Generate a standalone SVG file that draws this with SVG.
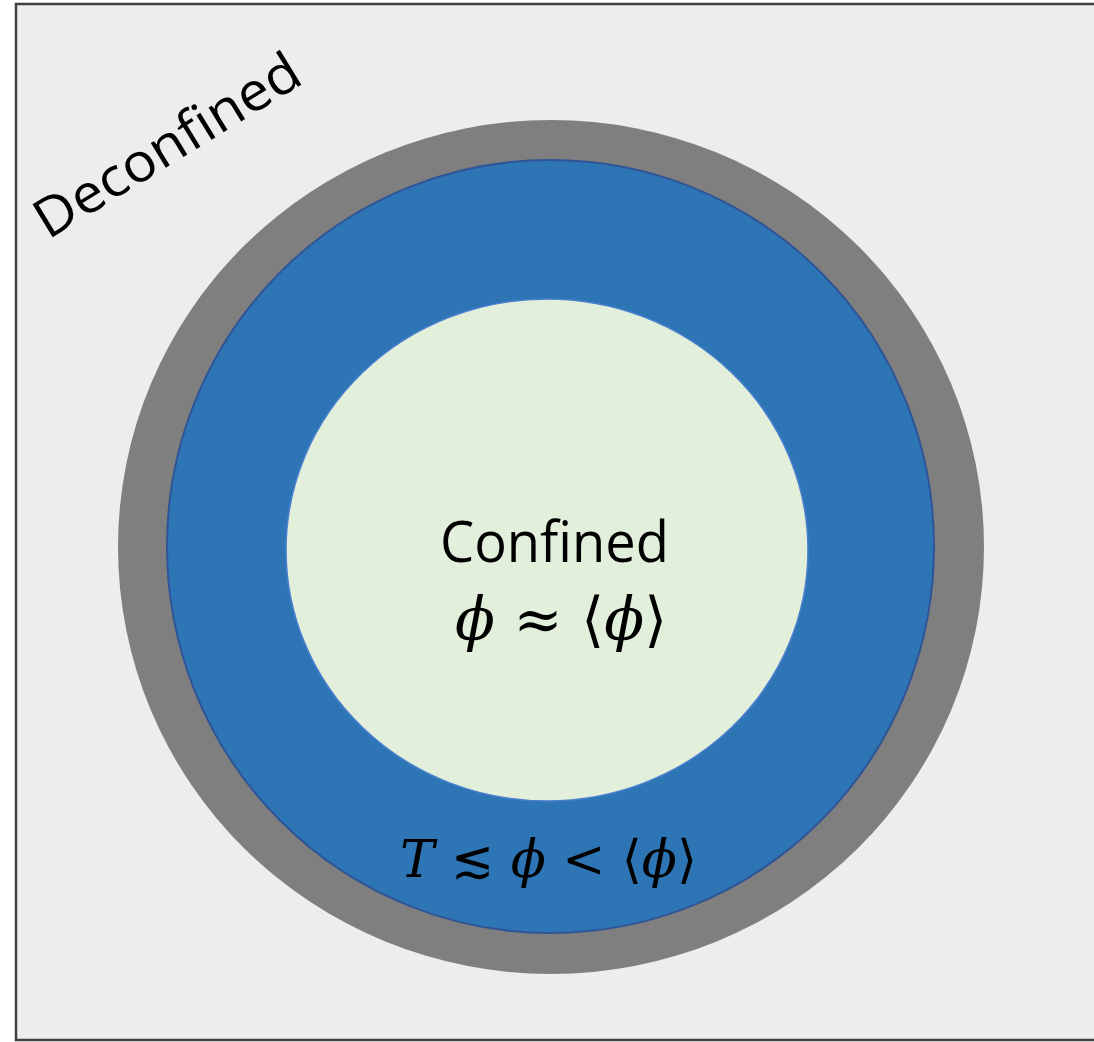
<svg xmlns="http://www.w3.org/2000/svg" width="1094" height="1042" viewBox="0 0 1094 1042">
<style>
.lbl{font-family:"Open Sans","Noto Sans","DejaVu Sans",sans-serif;fill:#000}
.math{font-family:"DejaVu Serif","Liberation Serif",serif;font-style:italic;fill:#000}
.up{font-style:normal}
</style>
<rect x="0" y="0" width="1094" height="1042" fill="#ffffff"/>
<g id="deconfined">
<rect x="16" y="4" width="1090" height="1036" fill="#ededed" stroke="#404040" stroke-width="2.5"/>
<text class="lbl" font-size="54" transform="translate(48,240) rotate(-31.5)" textLength="302" lengthAdjust="spacingAndGlyphs">Deconfined</text>
</g>
<g id="outer-ring">
<ellipse cx="551" cy="547" rx="433" ry="427" fill="#7f7f7f"/>
</g>
<g id="blue-region">
<ellipse cx="550.5" cy="546.5" rx="383.5" ry="386.5" fill="#2e75b6" stroke="#2f5597" stroke-width="2"/>
<text class="math" font-size="52" x="400" y="877" textLength="297" lengthAdjust="spacingAndGlyphs">T <tspan class="up">≲</tspan> ϕ <tspan class="up">&lt;</tspan> <tspan class="up">⟨</tspan>ϕ<tspan class="up">⟩</tspan></text>
</g>
<g id="confined">
<ellipse cx="547" cy="550" rx="261" ry="251" fill="#e2efda" stroke="#4a7fcf" stroke-width="1.5"/>
<text class="lbl" font-size="56" x="440" y="562" textLength="229" lengthAdjust="spacingAndGlyphs">Confined</text>
<text class="math" font-size="60" x="455" y="640" textLength="212" lengthAdjust="spacingAndGlyphs">ϕ <tspan class="up">≈</tspan> <tspan class="up">⟨</tspan>ϕ<tspan class="up">⟩</tspan></text>
</g>
<g id="connectors"/>
</svg>
